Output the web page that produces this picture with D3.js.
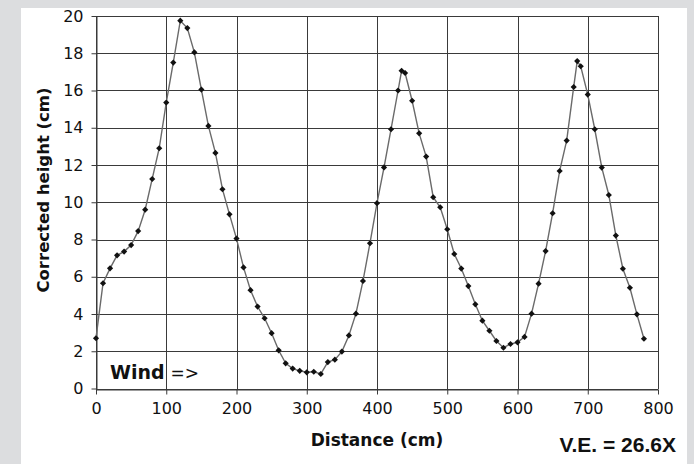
<!DOCTYPE html>
<html>
<head>
<meta charset="utf-8">
<script src="https://cdn.jsdelivr.net/npm/d3@7"></script>
<style>
  html, body { margin: 0; padding: 0; background: #dcdddf; }
  svg { display: block; }
</style>
</head>
<body>
<svg id="chart" width="694" height="464"></svg>
<script>
// Dune profile: corrected height along the transect
const distance = [0,10,20,30,40,50,60,70,80,90,100,110,120,130,
  140,150,160,170,180,190,200,210,220,230,240,250,260,270,280,290,300,310,320,330,
  340,350,360,370,380,390,400,410,420,430,435,
  440,450,460,470,480,490,500,510,520,530,540,550,560,570,580,590,600,610,620,630,
  640,650,660,670,680,685,
  690,700,710,720,730,740,750,760,770,780];
const height = [2.7,5.65,6.45,7.15,7.35,7.7,8.45,9.6,11.25,12.9,15.35,17.5,19.75,19.35,
  18.05,16.05,14.1,12.65,10.7,9.35,8.05,6.5,5.28,4.4,3.77,2.97,2.05,1.35,1.07,0.95,0.87,0.9,0.78,1.42,
  1.55,1.98,2.85,4.02,5.77,7.8,9.95,11.87,13.92,16.0,17.06,
  16.94,15.45,13.7,12.45,10.27,9.73,8.55,7.22,6.44,5.5,4.52,3.64,3.1,2.55,2.19,2.39,2.48,2.77,4.02,5.63,
  7.38,9.41,11.68,13.31,16.19,17.58,
  17.3,15.78,13.92,11.86,10.39,8.21,6.43,5.41,3.98,2.67];
const xTicks = [0,100,200,300,400,500,600,700,800];
const yTicks = [0,2,4,6,8,10,12,14,16,18,20];
const xTitle = "Distance (cm)";
const yTitle = "Corrected height (cm)";
const windLabel = "Wind";
const windArrow = "=>";
const exaggeration = "V.E. = 26.6X";

const svg = d3.select("#chart");

// white card behind the chart
svg.append("rect").attr("x", 21).attr("y", 8).attr("width", 666).attr("height", 456).attr("fill", "#fff");

const x = d3.scaleLinear().domain([0, 800]).range([96, 658]);
const y = d3.scaleLinear().domain([0, 20]).range([388.5, 16]);

// grid
const grid = svg.append("g").attr("stroke", "#3a3a3a").attr("stroke-width", 1).attr("shape-rendering", "crispEdges");
grid.selectAll("line.v").data(xTicks).join("line")
  .attr("x1", d => Math.round(x(d)) + 0.5).attr("x2", d => Math.round(x(d)) + 0.5)
  .attr("y1", y(20)).attr("y2", y(0));
grid.selectAll("line.h").data(yTicks).join("line")
  .attr("y1", d => Math.round(y(d)) + 0.5).attr("y2", d => Math.round(y(d)) + 0.5)
  .attr("x1", x(0)).attr("x2", x(800));

// axes
const font = "'DejaVu Sans', Verdana, sans-serif";
const xAxis = svg.append("g").attr("transform", `translate(0,${Math.round(y(0)) + 0.5})`)
  .call(d3.axisBottom(x).tickValues(xTicks).tickSize(5).tickSizeOuter(0).tickPadding(8).tickFormat(d3.format("d")));
const yAxis = svg.append("g").attr("transform", `translate(${Math.round(x(0)) + 0.5},0)`)
  .call(d3.axisLeft(y).tickValues(yTicks).tickSize(5).tickSizeOuter(0).tickPadding(8).tickFormat(d3.format("d")));
[xAxis, yAxis].forEach(g => {
  g.select(".domain").attr("stroke", "#3a3a3a");
  g.selectAll(".tick line").attr("stroke", "#3a3a3a");
  g.selectAll(".tick text").attr("fill", "#111").attr("font-family", font).attr("font-size", 16);
});

// profile line
const line = d3.line().x((d, i) => x(distance[i])).y(d => y(d));
svg.append("path").datum(height)
  .attr("d", line).attr("fill", "none").attr("stroke", "#6a6a6a").attr("stroke-width", 1.4);

// diamond markers
svg.append("g").selectAll("path").data(height).join("path")
  .attr("d", d3.symbol().type(d3.symbolSquare).size(19))
  .attr("transform", (d, i) => `translate(${x(distance[i])},${y(d)}) rotate(45)`)
  .attr("fill", "#111");

// wind label
const wind = svg.append("text").attr("x", 110).attr("y", 379).attr("font-family", font).attr("fill", "#111");
wind.append("tspan").attr("font-weight", "bold").attr("font-size", 19).text(windLabel);
wind.append("tspan").attr("dx", 6).attr("font-size", 17).text(windArrow);

// titles
svg.append("text").attr("x", 377).attr("y", 446).attr("text-anchor", "middle")
  .attr("font-family", font).attr("font-weight", "bold").attr("font-size", 17).attr("fill", "#111").text(xTitle);
svg.append("text").attr("transform", "translate(49,190) rotate(-90)").attr("text-anchor", "middle")
  .attr("font-family", font).attr("font-weight", "bold").attr("font-size", 16.5).attr("fill", "#111").text(yTitle);
svg.append("text").attr("x", 676).attr("y", 452).attr("text-anchor", "end")
  .attr("font-family", "'Liberation Sans', Arial, sans-serif").attr("font-weight", "bold").attr("font-size", 21)
  .attr("fill", "#111").text(exaggeration);
</script>
</body>
</html>
